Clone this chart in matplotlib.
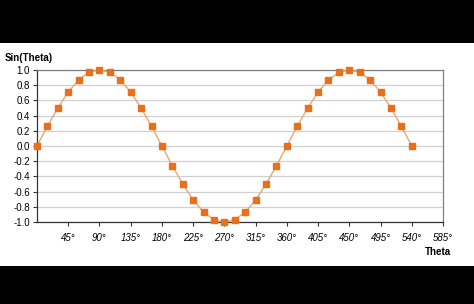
import matplotlib
matplotlib.use("Agg")
import matplotlib.pyplot as plt

# angles in degrees and values
theta = [0, 15, 30, 45, 60, 75, 90, 105, 120, 135, 150, 165, 180,
         195, 210, 225, 240, 255, 270, 285, 300, 315, 330, 345, 360,
         375, 390, 405, 420, 435, 450, 465, 480, 495, 510, 525, 540]
sin_vals = [0.0, 0.26, 0.5, 0.71, 0.87, 0.97, 1.0, 0.97, 0.87, 0.71, 0.5, 0.26, 0.0,
            -0.26, -0.5, -0.71, -0.87, -0.97, -1.0, -0.97, -0.87, -0.71, -0.5, -0.26, 0.0,
            0.26, 0.5, 0.71, 0.87, 0.97, 1.0, 0.97, 0.87, 0.71, 0.5, 0.26, 0.0]
xticks = [45, 90, 135, 180, 225, 270, 315, 360, 405, 450, 495, 540, 585]
yticks = [-1.0, -0.8, -0.6, -0.4, -0.2, 0.0, 0.2, 0.4, 0.6, 0.8, 1.0]

plt.rcParams['font.family'] = ['Liberation Sans', 'DejaVu Sans']

fig = plt.figure(figsize=(4.74, 3.04), dpi=100, facecolor='black')
# white panel between the black bars
bg = fig.add_axes([0, 38/304, 1, 223/304], zorder=-5)
bg.set_axis_off()
bg.add_artist(plt.Rectangle((0, 0), 1, 1, transform=bg.transAxes, color='white'))

ax = fig.add_axes([37/474, 82/304, 406/474, 152/304], zorder=1)
ax.set_facecolor('white')
ax.plot(theta, sin_vals, color='#E8A870', lw=1.0, zorder=3)
ax.plot(theta, sin_vals, ls='none', marker='s', ms=3.7, color='#E8701A',
        mec='#E8701A', zorder=4, clip_on=False)

ax.set_xlim(0, 585)
ax.set_ylim(-1.0, 1.0)
ax.set_xticks(xticks)
ax.set_xticklabels([f"{t}\u00b0" for t in xticks], fontsize=7, style='italic')
ax.set_yticks(yticks)
ax.set_yticklabels([f"{v:.1f}" for v in yticks], fontsize=7)
ax.tick_params(axis='both', direction='out', length=3, width=0.8, color='#333333', pad=2)
ax.tick_params(axis='x', pad=5)
ax.grid(axis='y', color='#D0D0D0', lw=0.9)
ax.set_axisbelow(True)

for s in ['left', 'bottom']:
    ax.spines[s].set_color('#333333')
    ax.spines[s].set_linewidth(0.9)
for s in ['top', 'right']:
    ax.spines[s].set_color('#808080')
    ax.spines[s].set_linewidth(0.9)

fig.text(5/474, 1 - 58/304, 'Sin(Theta)', fontsize=7, fontweight='bold', va='center')
fig.text(425/474, 1 - 252/304, 'Theta', fontsize=7, fontweight='bold', va='center')

fig.savefig('out.png', dpi=100, facecolor='black')
